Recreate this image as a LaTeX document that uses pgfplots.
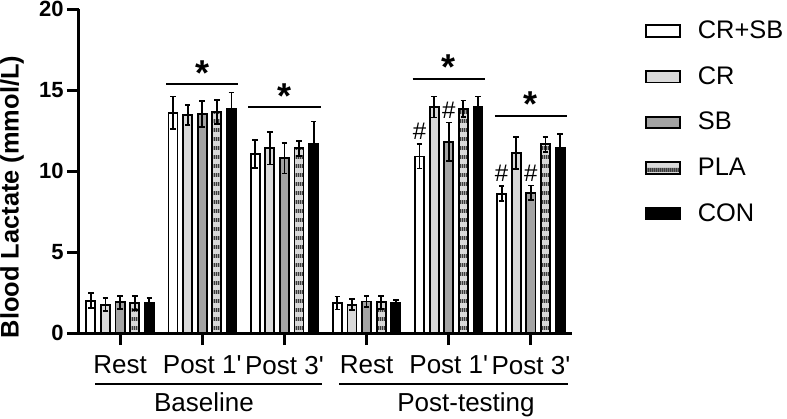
\documentclass[border=0pt]{standalone}
\usepackage{fontspec}
\setmainfont{Liberation Sans}
\usepackage{pgfplots}
\usepackage{pgfplotstable}
\pgfplotsset{compat=1.18}
\usetikzlibrary{patterns}

\definecolor{crgray}{HTML}{D9D9D9}
\definecolor{sbgray}{HTML}{A3A3A3}
\definecolor{plalight}{HTML}{D9D9D9}
\definecolor{pladark}{HTML}{3A3A3A}

% horizontal bands for PLA
\pgfdeclarepatternformonly{plastripes}{\pgfqpoint{0pt}{0pt}}{\pgfqpoint{1pt}{4.4pt}}{\pgfqpoint{1pt}{4.4pt}}{
  \pgfpathrectangle{\pgfqpoint{-0.1pt}{0pt}}{\pgfqpoint{1.2pt}{2pt}}
  \pgfusepath{fill}
}

% x: 0-2 baseline (Rest, Post 1', Post 3'), 3-5 post-testing
\pgfplotstableread{
x y e
0 2.00 0.45
1 13.60 1.00
2 11.05 0.85
3 1.85 0.40
4 10.90 0.75
5 8.60 0.45
}\tabcrsb
\pgfplotstableread{
x y e
0 1.75 0.40
1 13.45 0.60
2 11.40 1.00
3 1.75 0.35
4 13.95 0.65
5 11.10 1.00
}\tabcr
\pgfplotstableread{
x y e
0 1.90 0.40
1 13.50 0.80
2 10.80 0.95
3 1.95 0.35
4 11.80 1.20
5 8.65 0.45
}\tabsb
\pgfplotstableread{
x y e
0 1.85 0.45
1 13.65 0.75
2 11.40 0.45
3 1.90 0.40
4 13.85 0.50
5 11.65 0.47
}\tabpla
\pgfplotstableread{
x y e
0 1.85 0.30
1 13.85 1.00
2 11.70 1.35
3 1.85 0.20
4 13.95 0.65
5 11.45 0.85
}\tabcon

\pgfplotsset{
  gbar/.style={
    draw=black, line width=0.9pt, area legend,
    error bars/y dir=both, error bars/y explicit,
    error bars/error bar style={line width=0.9pt, draw=black},
    error bars/error mark options={rotate=90, mark size=1.4pt, line width=0.9pt, draw=black},
  },
}

\begin{document}
\begin{tikzpicture}
\path[use as bounding box] (-39.5pt,-42.5pt) rectangle (354pt,166.5pt);
\begin{axis}[
    scale only axis,
    width=246.5pt, height=162pt,
    ybar, bar width=0.11,
    xmin=-0.5, xmax=5.5, ymin=0, ymax=20,
    axis x line*=bottom, axis y line*=left,
    axis line style={line width=1.5pt},
    xtick={0,...,5},
    xticklabels={Rest,Post 1\textquotesingle,Post 3\textquotesingle,Rest,Post 1\textquotesingle,Post 3\textquotesingle},
    ytick={0,5,...,20},
    tick align=outside, major tick length=6pt,
    tick style={line width=1.5pt, black},
    /pgf/number format/assume math mode=true,
    yticklabel style={font=\bfseries\fontsize{11}{13}\selectfont, inner sep=1.5pt},
    xticklabel style={font=\fontsize{13}{15}\selectfont, yshift=-2pt},
    ylabel={Blood Lactate (mmol/L)},
    ylabel style={font=\bfseries\fontsize{12.7}{14}\selectfont,
      at={(axis description cs:-0.136,0.42)}, anchor=center},
    clip=false,
    legend style={at={(1.135,0.99)}, anchor=north west, draw=none, fill=none,
      font=\fontsize{12.7}{14}\selectfont, row sep=8.5pt},
    legend cell align=left,
]
\addplot[gbar, fill=white, bar shift=-0.356] table[x=x, y=y, y error=e] {\tabcrsb};
\addplot[gbar, fill=crgray, bar shift=-0.178] table[x=x, y=y, y error=e] {\tabcr};
\addplot[gbar, fill=sbgray, bar shift=0] table[x=x, y=y, y error=e] {\tabsb};
\addplot[forget plot, draw=none, fill=plalight, bar shift=0.178] table[x=x, y=y] {\tabpla};
\addplot[gbar, pattern=plastripes, pattern color=pladark, bar shift=0.178,
    legend image code/.code={
      \fill[plalight] (0cm,-0.1cm) rectangle (0.6cm,0.1cm);
      \draw[pattern=plastripes, pattern color=pladark, draw=black, line width=0.9pt]
        (0cm,-0.1cm) rectangle (0.6cm,0.1cm);}]
    table[x=x, y=y, y error=e] {\tabpla};
\addplot[gbar, fill=black, bar shift=0.356] table[x=x, y=y, y error=e] {\tabcon};
\legend{\hspace{6.5pt}CR+SB, \hspace{6.5pt}CR, \hspace{6.5pt}SB, \hspace{6.5pt}PLA, \hspace{6.5pt}CON}

% significance lines and stars
\draw[line width=1pt] (axis cs:0.56,15.37) -- (axis cs:1.44,15.37);
\draw[line width=1pt] (axis cs:1.56,13.95) -- (axis cs:2.44,13.95);
\draw[line width=1pt] (axis cs:3.56,15.68) -- (axis cs:4.44,15.68);
\draw[line width=1pt] (axis cs:4.56,13.40) -- (axis cs:5.44,13.40);
\node[font=\bfseries\fontsize{18}{18}\selectfont, anchor=base, inner sep=0, yshift=-0.5pt] at (axis cs:1,15.37) {*};
\node[font=\bfseries\fontsize{18}{18}\selectfont, anchor=base, inner sep=0, yshift=-0.5pt] at (axis cs:2,13.95) {*};
\node[font=\bfseries\fontsize{18}{18}\selectfont, anchor=base, inner sep=0, yshift=-0.5pt] at (axis cs:4,15.68) {*};
\node[font=\bfseries\fontsize{18}{18}\selectfont, anchor=base, inner sep=0, yshift=-0.5pt] at (axis cs:5,13.40) {*};

% hash marks
\node[font=\fontsize{12}{12}\selectfont, anchor=south, inner sep=0, yshift=2pt] at (axis cs:3.644,11.65) {\#};
\node[font=\fontsize{12}{12}\selectfont, anchor=south, inner sep=0, yshift=2pt] at (axis cs:4,13.00) {\#};
\node[font=\fontsize{12}{12}\selectfont, anchor=south, inner sep=0, yshift=2pt] at (axis cs:4.644,9.05) {\#};
\node[font=\fontsize{12}{12}\selectfont, anchor=south, inner sep=0, yshift=2pt] at (axis cs:5,9.10) {\#};

% group labels
\draw[line width=1pt] (axis cs:-0.30,-3.15) -- (axis cs:2.46,-3.15);
\draw[line width=1pt] (axis cs:2.67,-3.15) -- (axis cs:5.45,-3.15);
\node[font=\fontsize{13}{15}\selectfont, anchor=base] at (axis cs:1.02,-4.85) {Baseline};
\node[font=\fontsize{13}{15}\selectfont, anchor=base] at (axis cs:4.21,-4.85) {Post-testing};
\end{axis}
\end{tikzpicture}
\end{document}
